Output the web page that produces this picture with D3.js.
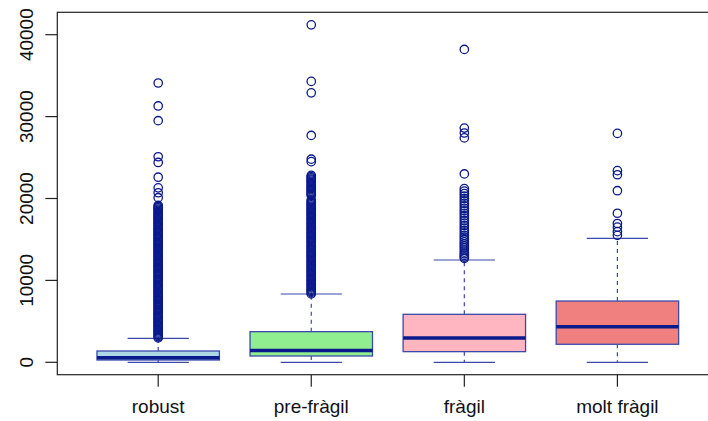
<!DOCTYPE html>
<html><head><meta charset="utf-8">
<script src="https://cdn.jsdelivr.net/npm/d3@7"></script>
<style>body{margin:0;background:#fff;}svg{display:block;font-family:"Liberation Sans",Arial,sans-serif;}</style>
</head><body><svg id="c" width="708" height="421"></svg>
<script>
const categories = ["robust", "pre-fràgil", "fràgil", "molt fràgil"];
const fills = ["#ADD8E6", "#90EE90", "#FFB6C1", "#F08080"];
// five-number summaries: lower whisker, Q1, median, Q3, upper whisker
const lowerWhisker = [0, 0, 0, 0];
const q1 = [280, 770, 1300, 2200];
const medians = [560, 1450, 2970, 4350];
const q3 = [1380, 3740, 5860, 7480];
const upperWhisker = [2930, 8340, 12490, 15140];
const outliersRobust = [2980, 3120, 3270, 3410, 3560, 3700, 3850, 3990, 4140, 4290, 4430, 4580, 4720, 4870, 5010, 5160, 5310, 5450, 5600, 5740, 5890, 6030, 6180, 6330, 6470, 6620, 6760, 6910, 7050, 7200, 7350, 7490, 7640, 7780, 7930, 8070, 8220, 8370, 8510, 8660, 8800, 8950, 9090, 9240, 9390, 9530, 9680, 9820, 9970, 10110, 10260, 10410, 10550, 10700, 10840, 10990, 11130, 11280, 11430, 11570, 11720, 11860, 12010, 12150, 12300, 12450, 12590, 12740, 12880, 13030, 13170, 13320, 13470, 13610, 13760, 13900, 14050, 14190, 14340, 14490, 14630, 14780, 14920, 15070, 15210, 15360, 15510, 15650, 15800, 15940, 16090, 16230, 16380, 16530, 16670, 16820, 16960, 17110, 17250, 17400, 17550, 17690, 17840, 17980, 18130, 18270, 18420, 18570, 18710, 18860, 19000, 19150, 20100, 20700, 21300, 22600, 24400, 25100, 29500, 31300, 34100];
const outliersPreFragil = [8350, 8500, 8640, 8790, 8930, 9080, 9220, 9370, 9510, 9660, 9800, 9950, 10090, 10240, 10380, 10530, 10670, 10820, 10960, 11110, 11250, 11400, 11540, 11690, 11830, 11980, 12120, 12270, 12410, 12560, 12700, 12850, 12990, 13140, 13280, 13430, 13570, 13720, 13860, 14010, 14150, 14300, 14440, 14590, 14730, 14880, 15020, 15170, 15310, 15460, 15600, 15750, 15890, 16040, 16180, 16330, 16470, 16620, 16760, 16910, 17050, 17200, 17340, 17490, 17630, 17780, 17920, 18070, 18210, 18360, 18500, 18650, 18790, 18940, 19080, 19230, 19370, 19520, 19660, 19810, 20350, 20500, 20640, 20790, 20930, 21080, 21220, 21370, 21510, 21660, 21800, 21950, 22090, 22240, 22380, 22530, 22670, 22820, 24500, 24800, 27700, 32900, 34300, 41200];
const outliersFragil = [12700, 12850, 13050, 13250, 13450, 13700, 13950, 14200, 14450, 14700, 15000, 15250, 15500, 15800, 16100, 16400, 16700, 17000, 17300, 17600, 17900, 18200, 18500, 18800, 19100, 19400, 19700, 20000, 20300, 20600, 20900, 21200, 23000, 27400, 28000, 28600, 38200];
const outliersMoltFragil = [15500, 15950, 16500, 16950, 18200, 20950, 22900, 23400, 27950];
const outliers = [outliersRobust, outliersPreFragil, outliersFragil, outliersMoltFragil];
const yTicks = [0, 10000, 20000, 30000, 40000];

const svg = d3.select("#c");
const frame = {left: 57.3, top: 12.3, right: 718, bottom: 374.7};
const x = d3.scalePoint().domain(categories).range([158.2, 617.4]);
const unit = x.step();
const y = d3.scaleLinear().domain([0, 40000]).range([362.3, 34.7]);

const dark = "#0b1a8b", thin = "#3b49ab";
const boxHalf = unit * 0.4, stapleHalf = unit * 0.2;

categories.forEach((c, i) => {
  const cx = x(c);
  const g = svg.append("g");
  g.append("line").attr("x1", cx).attr("x2", cx).attr("y1", y(q3[i])).attr("y2", y(upperWhisker[i]))
    .attr("stroke", thin).attr("stroke-width", 1.2).attr("stroke-dasharray", "4,4");
  g.append("line").attr("x1", cx).attr("x2", cx).attr("y1", y(q1[i])).attr("y2", y(lowerWhisker[i]))
    .attr("stroke", thin).attr("stroke-width", 1.2).attr("stroke-dasharray", "4,4");
  [upperWhisker[i], lowerWhisker[i]].forEach(v => {
    g.append("line").attr("x1", cx - stapleHalf).attr("x2", cx + stapleHalf).attr("y1", y(v)).attr("y2", y(v))
      .attr("stroke", thin).attr("stroke-width", 1.2);
  });
  g.append("rect").attr("x", cx - boxHalf).attr("width", 2 * boxHalf)
    .attr("y", y(q3[i])).attr("height", y(q1[i]) - y(q3[i]))
    .attr("fill", fills[i]).attr("stroke", thin).attr("stroke-width", 1.3);
  g.append("line").attr("x1", cx - boxHalf).attr("x2", cx + boxHalf).attr("y1", y(medians[i])).attr("y2", y(medians[i]))
    .attr("stroke", dark).attr("stroke-width", 3.5);
  g.selectAll("circle").data(outliers[i]).join("circle")
    .attr("cx", cx).attr("cy", d => y(d)).attr("r", 4.2)
    .attr("fill", "none").attr("stroke", dark).attr("stroke-width", 1.3);
});

svg.append("rect").attr("x", frame.left).attr("y", frame.top)
  .attr("width", frame.right - frame.left).attr("height", frame.bottom - frame.top)
  .attr("fill", "none").attr("stroke", "#222").attr("stroke-width", 1.2);

const yAxis = svg.append("g");
yTicks.forEach(t => {
  yAxis.append("line").attr("x1", frame.left - 12).attr("x2", frame.left).attr("y1", y(t)).attr("y2", y(t))
    .attr("stroke", "#222").attr("stroke-width", 1.2);
  yAxis.append("text").attr("transform", `translate(33,${y(t)}) rotate(-90)`)
    .attr("text-anchor", "middle").attr("font-size", 19).attr("fill", "#111").text(t);
});

categories.forEach(c => {
  svg.append("line").attr("x1", x(c)).attr("x2", x(c)).attr("y1", frame.bottom).attr("y2", frame.bottom + 12)
    .attr("stroke", "#222").attr("stroke-width", 1.2);
  svg.append("text").attr("x", x(c)).attr("y", 413).attr("text-anchor", "middle")
    .attr("font-size", 19).attr("fill", "#111").text(c);
});
</script></body></html>
